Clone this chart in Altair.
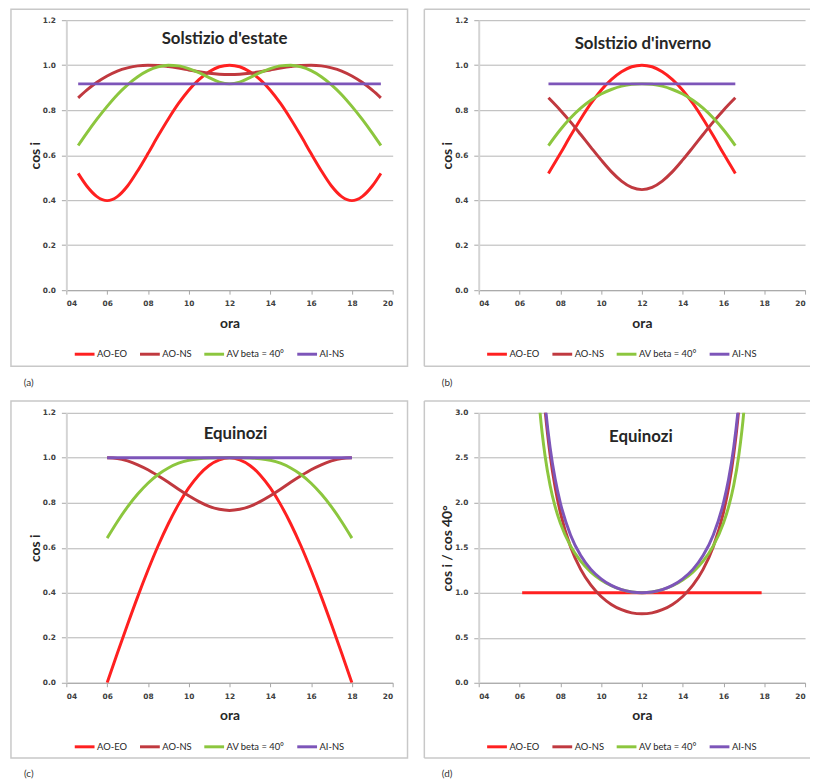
import altair as alt
import pandas as pd

SERIES = ["AO-EO", "AO-NS", "AV beta = 40°", "AI-NS"]
COLORS = ["#ff2020", "#c0393f", "#8cc63e", "#7d55b9"]

# ---- (a) Solstizio d'estate ----
h_sum = [4.58, 5.0, 5.5, 6.0, 6.5, 7.0, 7.5, 8.0, 8.5, 9.0, 9.5, 10.0, 10.5, 11.0, 11.5, 12.0,
         12.5, 13.0, 13.5, 14.0, 14.5, 15.0, 15.5, 16.0, 16.5, 17.0, 17.5, 18.0, 18.5, 19.0, 19.42]
sum_aoeo = [0.519, 0.463, 0.416, 0.398, 0.416, 0.463, 0.531, 0.607, 0.686, 0.761, 0.830, 0.889, 0.936, 0.971, 0.993, 1.000,
            0.993, 0.971, 0.936, 0.889, 0.830, 0.761, 0.686, 0.607, 0.531, 0.463, 0.416, 0.398, 0.416, 0.463, 0.519]
sum_aons = [0.855, 0.889, 0.924, 0.952, 0.974, 0.988, 0.997, 1.000, 0.999, 0.994, 0.987, 0.979, 0.971, 0.964, 0.960, 0.959,
            0.960, 0.964, 0.971, 0.979, 0.987, 0.994, 0.999, 1.000, 0.997, 0.988, 0.974, 0.952, 0.924, 0.889, 0.855]
sum_av = [0.643, 0.698, 0.760, 0.817, 0.869, 0.913, 0.949, 0.976, 0.993, 1.000, 0.997, 0.985, 0.967, 0.945, 0.925, 0.917,
          0.925, 0.945, 0.967, 0.985, 0.997, 1.000, 0.993, 0.976, 0.949, 0.913, 0.869, 0.817, 0.760, 0.698, 0.643]
sum_ains_h = [4.58, 19.42]
sum_ains = [0.917, 0.917]

# ---- (b) Solstizio d'inverno ----
h_win = [7.42, 8.0, 8.5, 9.0, 9.5, 10.0, 10.5, 11.0, 11.5, 12.0,
         12.5, 13.0, 13.5, 14.0, 14.5, 15.0, 15.5, 16.0, 16.58]
win_aoeo = [0.519, 0.607, 0.686, 0.761, 0.830, 0.889, 0.936, 0.971, 0.993, 1.000,
            0.993, 0.971, 0.936, 0.889, 0.830, 0.761, 0.686, 0.607, 0.519]
win_aons = [0.855, 0.800, 0.748, 0.692, 0.635, 0.579, 0.527, 0.485, 0.457, 0.447,
            0.457, 0.485, 0.527, 0.579, 0.635, 0.692, 0.748, 0.800, 0.855]
win_av = [0.643, 0.713, 0.765, 0.809, 0.844, 0.872, 0.892, 0.907, 0.915, 0.917,
          0.915, 0.907, 0.892, 0.872, 0.844, 0.809, 0.765, 0.713, 0.643]
win_ains_h = [7.42, 16.58]
win_ains = [0.917, 0.917]

# ---- (c) Equinozi ----
h_eq = [6.0, 6.5, 7.0, 7.5, 8.0, 8.5, 9.0, 9.5, 10.0, 10.5, 11.0, 11.5, 12.0,
        12.5, 13.0, 13.5, 14.0, 14.5, 15.0, 15.5, 16.0, 16.5, 17.0, 17.5, 18.0]
eq_aoeo = [0.000, 0.131, 0.259, 0.383, 0.500, 0.609, 0.707, 0.793, 0.866, 0.924, 0.966, 0.991, 1.000,
           0.991, 0.966, 0.924, 0.866, 0.793, 0.707, 0.609, 0.500, 0.383, 0.259, 0.131, 0.000]
eq_aons = [1.000, 0.997, 0.986, 0.969, 0.947, 0.920, 0.891, 0.860, 0.831, 0.805, 0.784, 0.771, 0.766,
           0.771, 0.784, 0.805, 0.831, 0.860, 0.891, 0.920, 0.947, 0.969, 0.986, 0.997, 1.000]
eq_av = [0.643, 0.716, 0.782, 0.839, 0.887, 0.926, 0.955, 0.976, 0.989, 0.996, 0.999, 1.000, 1.000,
         1.000, 0.999, 0.996, 0.989, 0.976, 0.955, 0.926, 0.887, 0.839, 0.782, 0.716, 0.643]
eq_ains_h = [6.0, 18.0]
eq_ains = [1.0, 1.0]

# ---- (d) Equinozi, cos i / cos 40° ----
h_rat = [6.75, 7.0, 7.25, 7.5, 7.75, 8.0, 8.5, 9.0, 9.5, 10.0, 10.5, 11.0, 11.5, 12.0,
         12.5, 13.0, 13.5, 14.0, 14.5, 15.0, 15.5, 16.0, 16.25, 16.5, 16.75, 17.0, 17.25]
rat_aoeo_h = [6.13, 17.87]
rat_aoeo = [1.0, 1.0]
rat_aons = [5.085, 3.810, 3.044, 2.533, 2.168, 1.894, 1.512, 1.260, 1.084, 0.959, 0.871, 0.812, 0.777, 0.766,
            0.777, 0.812, 0.871, 0.959, 1.084, 1.260, 1.512, 1.894, 2.168, 2.533, 3.044, 3.810, 5.085]
rat_av = [3.845, 3.021, 2.525, 2.193, 1.954, 1.774, 1.521, 1.351, 1.230, 1.142, 1.078, 1.035, 1.009, 1.000,
          1.009, 1.035, 1.078, 1.142, 1.230, 1.351, 1.521, 1.774, 1.954, 2.193, 2.525, 3.021, 3.845]
rat_ains = [5.126, 3.864, 3.111, 2.613, 2.261, 2.000, 1.643, 1.414, 1.260, 1.155, 1.082, 1.035, 1.009, 1.000,
            1.009, 1.035, 1.082, 1.155, 1.260, 1.414, 1.643, 2.000, 2.261, 2.613, 3.111, 3.864, 5.126]

X_TICKS = [4, 6, 8, 10, 12, 14, 16, 18, 20]
Y_TICKS_A = [0.0, 0.2, 0.4, 0.6, 0.8, 1.0, 1.2]
Y_TICKS_D = [0.0, 0.5, 1.0, 1.5, 2.0, 2.5, 3.0]

W, H = 330, 273
FONT = "Lato"
TICKFONT = "DejaVu Sans"
TICK_STYLE = dict(labelFont=TICKFONT, labelFontSize=7.5, labelFontWeight="bold", labelColor="#404040",
                  titleFont=FONT, titleFontSize=14, titleFontWeight="bold", titleColor="#262626")


def long_df(parts):
    rows = []
    for name, hours, vals in parts:
        for i, (h, v) in enumerate(zip(hours, vals)):
            rows.append({"ora": h, "v": v, "serie": name, "k": i})
    return pd.DataFrame(rows)


def panel(parts, title, tpos, letter, lpos, ydomain, yticks, ytitle, full_box, box_top):
    df = long_df(parts)
    lines = alt.Chart(df).mark_line(strokeWidth=3, interpolate="monotone", clip=True).encode(
        x=alt.X("ora:Q", scale=alt.Scale(domain=[4, 20], nice=False, zero=False),
                axis=alt.Axis(values=X_TICKS, labelExpr="(datum.value < 10 ? '0' : '') + datum.value",
                              title="ora", grid=False, domainColor="#a6a6a6", domainWidth=1,
                              tickColor="#a6a6a6", tickSize=4, labelPadding=6, titlePadding=9,
                              **TICK_STYLE)),
        y=alt.Y("v:Q", scale=alt.Scale(domain=ydomain, nice=False),
                axis=alt.Axis(values=yticks, format=".1f", title=ytitle, grid=True,
                              gridColor="#b4b4b4", domainColor="#d4d4d4", domainWidth=2,
                              tickColor="#a6a6a6", tickSize=5, labelPadding=6, titlePadding=0,
                              **TICK_STYLE)),
        color=alt.Color("serie:N", scale=alt.Scale(domain=SERIES, range=COLORS),
                        legend=alt.Legend(title=None, orient="none", direction="horizontal",
                                          legendX=7, legendY=326, symbolType="stroke",
                                          symbolSize=400, symbolStrokeWidth=3, labelOffset=1,
                                          columnPadding=6, labelFontSize=9.5, labelFont=FONT,
                                          labelColor="#262626", padding=0)),
        order="k:Q",
    )
    ttl = alt.Chart(pd.DataFrame({"t": [title]})).mark_text(
        font=FONT, fontSize=17, fontWeight="bold", color="#262626",
        align="center", baseline="middle").encode(x=alt.value(tpos[0]), y=alt.value(tpos[1]), text="t:N")
    lab = alt.Chart(pd.DataFrame({"t": [letter]})).mark_text(
        font=FONT, fontSize=10, color="#333333",
        align="center", baseline="middle").encode(x=alt.value(lpos[0]), y=alt.value(lpos[1]), text="t:N")
    frame_df = pd.DataFrame({"f": [0]})
    layers = [lines, ttl, lab]
    if full_box:
        box = alt.Chart(frame_df).mark_rect(fill="transparent", stroke="#c8c8c8", strokeWidth=1.5).encode(
            x=alt.value(-56), x2=alt.value(W + 15), y=alt.value(box_top), y2=alt.value(box_top + 361))
        layers = [box] + layers
    else:
        top = alt.Chart(frame_df).mark_rule(color="#c8c8c8", strokeWidth=1.5).encode(
            x=alt.value(-55), x2=alt.value(W + 5), y=alt.value(box_top))
        bot = alt.Chart(frame_df).mark_rule(color="#c8c8c8", strokeWidth=1.5).encode(
            x=alt.value(-55), x2=alt.value(W + 5), y=alt.value(box_top + 361))
        lef = alt.Chart(frame_df).mark_rule(color="#c8c8c8", strokeWidth=1.5).encode(
            x=alt.value(-55), y=alt.value(box_top), y2=alt.value(box_top + 361))
        layers = [top, bot, lef] + layers
    return alt.layer(*layers).properties(width=W, height=H)


pa = panel([("AO-EO", h_sum, sum_aoeo), ("AO-NS", h_sum, sum_aons), ("AV beta = 40°", h_sum, sum_av),
            ("AI-NS", sum_ains_h, sum_ains)],
           "Solstizio d'estate", (160, 19), "(a)", (-38, 367), [0, 1.2], Y_TICKS_A, "cos i", True, -11)
pb = panel([("AO-EO", h_win, win_aoeo), ("AO-NS", h_win, win_aons), ("AV beta = 40°", h_win, win_av),
            ("AI-NS", win_ains_h, win_ains)],
           "Solstizio d'inverno", (166, 24), "(b)", (-32, 367), [0, 1.2], Y_TICKS_A, "cos i", False, -11)
pc = panel([("AO-EO", h_eq, eq_aoeo), ("AO-NS", h_eq, eq_aons), ("AV beta = 40°", h_eq, eq_av),
            ("AI-NS", eq_ains_h, eq_ains)],
           "Equinozi", (171, 21), "(c)", (-38, 365), [0, 1.2], Y_TICKS_A, "cos i", True, -12)
pd_ = panel([("AO-EO", rat_aoeo_h, rat_aoeo), ("AO-NS", h_rat, rat_aons), ("AV beta = 40°", h_rat, rat_av),
             ("AI-NS", h_rat, rat_ains)],
            "Equinozi", (164, 25), "(d)", (-32, 365), [0, 3.0], Y_TICKS_D, "cos i / cos  40°", False, -12)

chart = alt.ConcatChart(
    concat=[pa, pb, pc, pd_], columns=2,
    spacing={"row": 124, "column": 87}, bounds="flush",
    padding={"left": 2, "top": -4, "right": 0, "bottom": 0},
    background="white",
).resolve_scale(color="independent", x="independent", y="independent").configure_view(stroke=None)

chart.save("out.html", embed_options={"renderer": "svg", "actions": False})
